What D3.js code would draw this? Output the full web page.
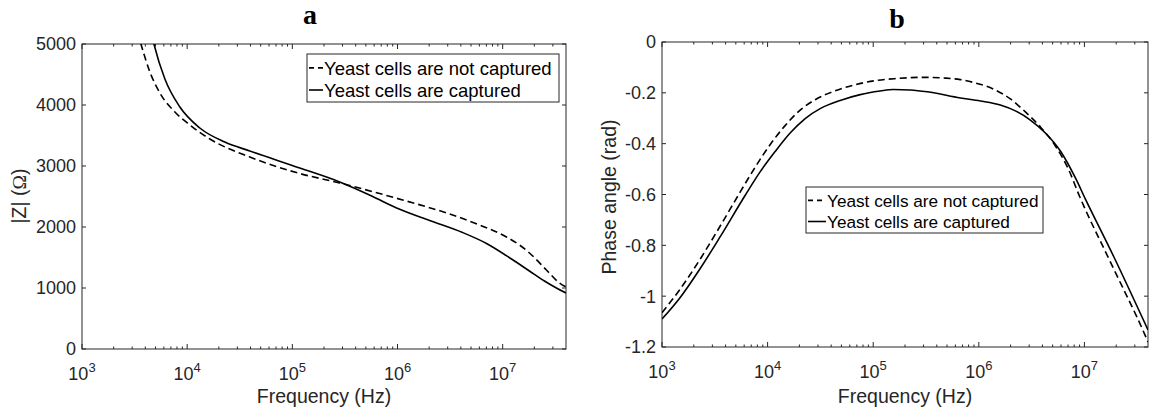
<!DOCTYPE html>
<html><head><meta charset="utf-8">
<script src="https://cdn.jsdelivr.net/npm/d3@7"></script>
<style>
body{margin:0;background:#fff}
svg{display:block}
text{font-family:"Liberation Sans",Arial,Helvetica,sans-serif;fill:#262626}
</style>
</head><body>
<svg id="c" width="1150" height="415"></svg>
<script>
// ---------- data ----------
const seriesNames = ["Yeast cells are not captured", "Yeast cells are captured"];
const panelTitles = ["a", "b"];
const xTickExponents = [3, 4, 5, 6, 7];
const magTicks = [0, 1000, 2000, 3000, 4000, 5000];
const phaseTicks = [0, -0.2, -0.4, -0.6, -0.8, -1, -1.2];

// |Z| (Ohm) vs frequency (Hz)
const magFreqNot = [3167, 3633, 4424, 5505, 7642, 10610, 16430, 39400, 117600, 281900, 1118000, 2926000, 6020000, 10870000, 14440000, 17970000, 26060000, 34630000, 40000000];
const magNot     = [5361, 5000, 4541, 4197, 3885, 3672, 3443, 3148, 2877, 2721, 2443, 2230, 2033, 1836, 1705, 1574, 1295, 1082, 1016];
const magFreqCap = [4143, 4829, 6141, 8525, 13200, 22800, 39400, 117600, 281900, 567500, 980600, 2018000, 4151000, 7018000, 12140000, 17970000, 24950000, 32430000, 40000000];
const magCap     = [5516, 5000, 4426, 3967, 3623, 3393, 3246, 2967, 2738, 2508, 2311, 2107, 1910, 1730, 1475, 1279, 1115, 1000, 918];

// Phase (rad) vs frequency (Hz)
const phFreqNot = [1000, 1481, 2293, 3546, 5487, 7612, 10560, 14650, 20330, 28200, 43630, 67500, 104400, 161600, 311100, 481400, 667600, 926500, 1372000, 1989000, 2760000, 3828000, 5310000, 7052000, 8967000, 17640000, 37860000, 40000000];
const phNot     = [-1.065, -0.973, -0.855, -0.725, -0.591, -0.493, -0.404, -0.329, -0.268, -0.227, -0.192, -0.168, -0.152, -0.144, -0.139, -0.142, -0.148, -0.161, -0.185, -0.224, -0.275, -0.334, -0.409, -0.500, -0.606, -0.866, -1.157, -1.180];
const phFreqCap = [1000, 1481, 2293, 3546, 6118, 8489, 11780, 16340, 22680, 31450, 48660, 75310, 116500, 154800, 224300, 324900, 667600, 1033000, 1599000, 2218000, 3077000, 4269000, 5923000, 8218000, 10220000, 18830000, 40000000];
const phCap     = [-1.090, -1.006, -0.892, -0.767, -0.604, -0.511, -0.431, -0.358, -0.301, -0.262, -0.230, -0.207, -0.193, -0.187, -0.189, -0.196, -0.220, -0.232, -0.248, -0.271, -0.307, -0.358, -0.429, -0.535, -0.618, -0.842, -1.133];

// ---------- drawing ----------
const svg = d3.select("#c");
const AX = "#262626";

function panel(cfg) {
  const g = svg.append("g");
  const x = d3.scaleLog().domain([1e3, 4e7]).range([cfg.x0, cfg.x1]);
  const y = d3.scaleLinear().domain(cfg.yDomain).range([cfg.y0, cfg.y1]);

  const clipId = "clip" + cfg.id;
  svg.append("clipPath").attr("id", clipId).append("rect")
    .attr("x", cfg.x0).attr("y", cfg.y1).attr("width", cfg.x1 - cfg.x0).attr("height", cfg.y0 - cfg.y1);

  // box
  g.append("rect").attr("x", cfg.x0).attr("y", cfg.y1)
    .attr("width", cfg.x1 - cfg.x0).attr("height", cfg.y0 - cfg.y1)
    .attr("fill", "none").attr("stroke", AX).attr("stroke-width", 1);

  // x ticks (major + minor), bottom & top, inward
  const majors = xTickExponents.map(e => Math.pow(10, e));
  const minors = [];
  xTickExponents.forEach(e => { for (let m = 2; m <= 9; m++) { const v = m * Math.pow(10, e); if (v < 4e7) minors.push(v); } });
  majors.forEach(v => {
    g.append("line").attr("x1", x(v)).attr("x2", x(v)).attr("y1", cfg.y0).attr("y2", cfg.y0 - 5).attr("stroke", AX);
    g.append("line").attr("x1", x(v)).attr("x2", x(v)).attr("y1", cfg.y1).attr("y2", cfg.y1 + 5).attr("stroke", AX);
  });
  minors.forEach(v => {
    g.append("line").attr("x1", x(v)).attr("x2", x(v)).attr("y1", cfg.y0).attr("y2", cfg.y0 - 2.5).attr("stroke", AX);
    g.append("line").attr("x1", x(v)).attr("x2", x(v)).attr("y1", cfg.y1).attr("y2", cfg.y1 + 2.5).attr("stroke", AX);
  });
  xTickExponents.forEach(e => {
    const t = g.append("text").attr("x", x(Math.pow(10, e))).attr("y", cfg.y0 + 31)
      .attr("text-anchor", "middle").style("font-size", "18px");
    t.append("tspan").text("10");
    t.append("tspan").attr("dy", -8).style("font-size", "13px").text(e);
  });

  // y ticks, left & right, inward
  cfg.yTicks.forEach(v => {
    g.append("line").attr("x1", cfg.x0).attr("x2", cfg.x0 + 4).attr("y1", y(v)).attr("y2", y(v)).attr("stroke", AX);
    g.append("line").attr("x1", cfg.x1).attr("x2", cfg.x1 - 4).attr("y1", y(v)).attr("y2", y(v)).attr("stroke", AX);
    g.append("text").attr("x", cfg.x0 - 6).attr("y", y(v)).attr("dy", "0.36em")
      .attr("text-anchor", "end").style("font-size", "18px").text(cfg.fmt(v));
  });

  // axis labels
  g.append("text").attr("x", (cfg.x0 + cfg.x1) / 2).attr("y", 403)
    .attr("text-anchor", "middle").style("font-size", "19.5px").text("Frequency (Hz)");
  const yl = g.append("text").attr("transform", `translate(${cfg.ylx},${cfg.yly}) rotate(-90)`)
    .attr("text-anchor", "middle").style("font-size", "19.5px");
  cfg.yLabel(yl);

  // title
  g.append("text").attr("x", cfg.titleX).attr("y", cfg.titleY).attr("text-anchor", "middle")
    .style("font-family", "'Liberation Serif','Times New Roman',serif").style("font-weight", "bold")
    .style("font-size", "28px").style("fill", "#000").text(cfg.title);

  // lines
  const line = d3.line().x(d => x(d[0])).y(d => y(d[1])).curve(d3.curveMonotoneX);
  const lg = g.append("g").attr("clip-path", `url(#${clipId})`);
  cfg.series.forEach((s, i) => {
    lg.append("path").datum(d3.zip(s.f, s.v)).attr("d", line)
      .attr("fill", "none").attr("stroke", "#000").attr("stroke-width", 1.6)
      .attr("stroke-dasharray", i === 0 ? "7,4" : null);
  });

  // legend
  const L = cfg.legend;
  g.append("rect").attr("x", L.x).attr("y", L.y).attr("width", L.w).attr("height", L.h)
    .attr("fill", "#fff").attr("stroke", AX).attr("stroke-width", 1);
  seriesNames.forEach((n, i) => {
    const cy = L.y + L.h * (i === 0 ? 0.29 : 0.75);
    g.append("line").attr("x1", L.x + 2).attr("x2", L.x + L.lineW).attr("y1", cy).attr("y2", cy)
      .attr("stroke", "#000").attr("stroke-width", 1.6).attr("stroke-dasharray", i === 0 ? "5,4" : null);
    g.append("text").attr("x", L.x + L.lineW + 1).attr("y", cy).attr("dy", "0.36em")
      .style("font-size", L.fs + "px").style("fill", "#000").text(n);
  });
}

panel({
  id: "a", x0: 82, x1: 566, y0: 349, y1: 44, yDomain: [0, 5000], yTicks: magTicks,
  fmt: v => String(v), ylx: 26, yly: 196,
  yLabel: t => { t.append("tspan").text("|Z| ("); t.append("tspan").style("font-family", "'Liberation Serif',serif").text("Ω"); t.append("tspan").text(")"); },
  title: panelTitles[0], titleX: 310, titleY: 24,
  series: [{ f: magFreqNot, v: magNot }, { f: magFreqCap, v: magCap }],
  legend: { x: 307, y: 54, w: 252, h: 48, lineW: 16, fs: 18.5 }
});

panel({
  id: "b", x0: 662, x1: 1148, y0: 347, y1: 42, yDomain: [-1.2, 0], yTicks: phaseTicks,
  fmt: v => v === 0 ? "0" : String(v), ylx: 616, yly: 197,
  yLabel: t => t.text("Phase angle (rad)"),
  title: panelTitles[1], titleX: 897, titleY: 28,
  series: [{ f: phFreqNot, v: phNot }, { f: phFreqCap, v: phCap }],
  legend: { x: 806, y: 187, w: 237, h: 46, lineW: 20, fs: 17.2 }
});
</script>
</body></html>
